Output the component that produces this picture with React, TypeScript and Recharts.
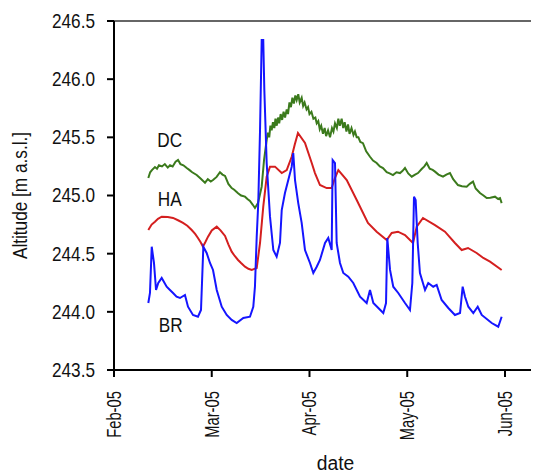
import { LineChart, Line, XAxis, YAxis, ReferenceLine, ReferenceDot } from 'recharts'

// x = months since 1 Feb 2005, y = altitude [m a.s.l.]
const dcSeries = [
  [0.351, 245.15], [0.37, 245.2], [0.39, 245.22], [0.419, 245.245], [0.44, 245.23], [0.46, 245.26], [0.491, 245.25],
  [0.52, 245.27], [0.55, 245.24], [0.573, 245.26], [0.6, 245.25], [0.63, 245.29], [0.655, 245.305], [0.68, 245.27],
  [0.71, 245.26], [0.744, 245.236], [0.77, 245.22], [0.8, 245.2], [0.846, 245.176], [0.88, 245.15], [0.931, 245.11],
  [0.96, 245.14], [0.99, 245.12], [1.013, 245.133], [1.05, 245.16], [1.084, 245.2], [1.11, 245.18], [1.136, 245.168],
  [1.17, 245.1], [1.204, 245.064], [1.23, 245.05], [1.269, 245.02], [1.3, 245.0], [1.34, 244.99], [1.365, 244.97],
  [1.391, 244.953], [1.42, 244.92], [1.442, 244.893], [1.473, 244.935], [1.511, 245.076], [1.535, 245.305],
  [1.562, 245.477], [1.575, 245.54], [1.588, 245.5], [1.6, 245.6], [1.613, 245.56], [1.626, 245.63], [1.64, 245.58],
  [1.652, 245.66], [1.665, 245.6], [1.678, 245.67], [1.69, 245.62], [1.705, 245.7], [1.72, 245.65], [1.735, 245.72],
  [1.75, 245.67], [1.767, 245.74], [1.78, 245.7], [1.795, 245.8], [1.81, 245.76], [1.825, 245.84], [1.84, 245.79],
  [1.855, 245.86], [1.869, 245.82], [1.885, 245.87], [1.9, 245.8], [1.92, 245.84], [1.935, 245.77], [1.95, 245.8],
  [1.97, 245.74], [1.985, 245.76], [2.0, 245.7], [2.02, 245.72], [2.04, 245.66], [2.06, 245.67], [2.074, 245.62],
  [2.09, 245.64], [2.105, 245.57], [2.12, 245.6], [2.138, 245.53], [2.155, 245.58], [2.17, 245.51], [2.19, 245.56],
  [2.21, 245.5], [2.23, 245.58], [2.245, 245.55], [2.261, 245.62], [2.28, 245.58], [2.295, 245.66], [2.31, 245.6],
  [2.329, 245.66], [2.345, 245.58], [2.36, 245.63], [2.378, 245.55], [2.394, 245.61], [2.41, 245.53], [2.43, 245.58],
  [2.45, 245.52], [2.465, 245.55], [2.483, 245.5], [2.5, 245.5], [2.52, 245.46], [2.547, 245.45], [2.58, 245.38],
  [2.619, 245.333], [2.65, 245.3], [2.687, 245.279], [2.72, 245.25], [2.752, 245.236], [2.79, 245.2], [2.82, 245.19],
  [2.854, 245.176], [2.89, 245.2], [2.926, 245.193], [2.95, 245.21], [2.977, 245.236], [3.01, 245.19],
  [3.046, 245.162], [3.08, 245.18], [3.11, 245.193], [3.15, 245.23], [3.175, 245.25], [3.199, 245.28], [3.23, 245.23],
  [3.26, 245.22], [3.284, 245.205], [3.32, 245.18], [3.366, 245.162], [3.4, 245.18], [3.437, 245.193], [3.47, 245.14],
  [3.519, 245.09], [3.56, 245.08], [3.608, 245.076], [3.64, 245.1], [3.673, 245.119], [3.7, 245.06], [3.744, 245.021],
  [3.78, 245.0], [3.813, 244.978], [3.85, 244.98], [3.898, 244.99], [3.93, 244.97], [3.949, 244.978], [3.966, 244.935],
]

const haSeries = [
  [0.351, 244.703], [0.385, 244.75], [0.419, 244.775], [0.45, 244.8], [0.488, 244.818], [0.55, 244.815],
  [0.604, 244.807], [0.66, 244.785], [0.706, 244.764], [0.75, 244.74], [0.795, 244.703], [0.83, 244.67],
  [0.859, 244.635], [0.885, 244.6], [0.91, 244.56], [0.935, 244.6], [0.962, 244.646], [1.0, 244.7],
  [1.051, 244.732], [1.09, 244.7], [1.136, 244.652], [1.17, 244.58], [1.204, 244.517], [1.235, 244.48],
  [1.269, 244.446], [1.3, 244.42], [1.34, 244.388], [1.375, 244.37], [1.409, 244.36], [1.46, 244.377],
  [1.494, 244.592], [1.527, 244.904], [1.562, 245.162], [1.596, 245.248], [1.647, 245.248], [1.716, 245.193],
  [1.767, 245.219], [1.818, 245.333], [1.85, 245.44], [1.882, 245.537], [1.954, 245.451], [2.023, 245.279],
  [2.056, 245.193], [2.107, 245.09], [2.176, 245.064], [2.227, 245.064], [2.26, 245.15], [2.295, 245.219],
  [2.381, 245.133], [2.483, 244.961], [2.598, 244.764], [2.687, 244.689], [2.79, 244.617], [2.841, 244.678],
  [2.905, 244.689], [2.977, 244.66], [3.059, 244.592], [3.097, 244.732], [3.161, 244.807], [3.284, 244.746],
  [3.386, 244.689], [3.488, 244.592], [3.557, 244.531], [3.622, 244.549], [3.71, 244.506], [3.778, 244.463],
  [3.847, 244.431], [3.966, 244.36],
]

const brSeries = [
  [0.351, 244.076], [0.368, 244.162], [0.386, 244.56], [0.409, 244.42], [0.43, 244.188], [0.453, 244.248],
  [0.488, 244.291], [0.539, 244.216], [0.57, 244.19], [0.604, 244.162], [0.64, 244.13], [0.675, 244.119],
  [0.726, 244.145], [0.757, 244.044], [0.808, 243.973], [0.859, 243.958], [0.89, 244.016], [0.914, 244.56],
  [0.948, 244.506], [0.982, 244.42], [1.013, 244.36], [1.051, 244.188], [1.102, 244.044], [1.153, 243.973],
  [1.204, 243.93], [1.255, 243.904], [1.323, 243.947], [1.391, 243.958], [1.425, 244.044], [1.442, 244.216],
  [1.46, 244.646], [1.476, 244.935], [1.494, 245.563], [1.511, 246.337], [1.527, 246.337], [1.538, 245.907],
  [1.562, 245.279], [1.596, 244.818], [1.63, 244.531], [1.664, 244.474], [1.698, 244.592], [1.716, 244.875],
  [1.749, 245.021], [1.783, 245.133], [1.818, 245.248], [1.834, 245.365], [1.852, 245.133], [1.885, 244.935],
  [1.92, 244.764], [1.954, 244.531], [2.005, 244.42], [2.039, 244.334], [2.074, 244.388], [2.107, 244.446],
  [2.159, 244.592], [2.192, 244.635], [2.227, 244.531], [2.237, 245.305], [2.261, 245.279], [2.278, 244.592],
  [2.312, 244.42], [2.346, 244.334], [2.397, 244.302], [2.448, 244.248], [2.517, 244.13], [2.585, 244.076],
  [2.619, 244.188], [2.653, 244.076], [2.704, 244.033], [2.755, 243.99], [2.783, 244.076], [2.796, 244.635],
  [2.824, 244.36], [2.857, 244.216], [2.908, 244.162], [2.977, 244.076], [3.028, 244.016], [3.052, 244.248],
  [3.069, 244.99], [3.086, 244.961], [3.107, 244.592], [3.13, 244.334], [3.182, 244.188], [3.215, 244.248],
  [3.266, 244.216], [3.301, 244.231], [3.352, 244.102], [3.42, 244.033], [3.488, 243.973], [3.54, 243.99],
  [3.567, 244.216], [3.591, 244.13], [3.625, 244.044], [3.676, 243.99], [3.721, 244.044], [3.762, 243.973],
  [3.864, 243.904], [3.931, 243.872], [3.966, 243.958],
]

const monthTicks = [0, 1, 2, 3, 4]
const monthLabels = ['Feb-05', 'Mar-05', 'Apr-05', 'May-05', 'Jun-05']
const altTicks = [243.5, 244.0, 244.5, 245.0, 245.5, 246.0, 246.5]

const seriesLabels = [
  { name: 'DC', x: 0.57, y: 245.48 },
  { name: 'HA', x: 0.57, y: 244.97 },
  { name: 'BR', x: 0.58, y: 243.89 },
]

const toRows = (s: number[][]) => s.map(([m, alt]) => ({ m, alt }))

const FONT = "'Liberation Sans', Arial, Helvetica, sans-serif"

// narrow-looking text: the reference uses a condensed sans
function CondText({ x, y, angle = 0, sx = 0.85, size = 19, anchor = 'middle', children }: any) {
  return (
    <g transform={`translate(${x}, ${y}) rotate(${angle}) scale(${sx}, 1)`}>
      <text x={0} y={0} textAnchor={anchor} dominantBaseline="central" fontFamily={FONT} fontSize={size} fill="#111">
        {children}
      </text>
    </g>
  )
}

function MonthTick({ x, y, payload }: any) {
  return (
    <CondText x={x} y={y + 12} angle={-90} sx={0.74} size={20} anchor="end">
      {monthLabels[monthTicks.indexOf(payload.value)]}
    </CondText>
  )
}

function AltTick({ x, y, payload }: any) {
  return (
    <CondText x={x} y={y} sx={0.86} size={20} anchor="end">
      {payload.value.toFixed(1)}
    </CondText>
  )
}

export default function App() {
  return (
    <LineChart width={531} height={467} margin={{ top: 13, right: 0, bottom: 0, left: 0 }}>
      <XAxis
        type="number"
        dataKey="m"
        domain={[0, 4.348]}
        ticks={monthTicks}
        allowDataOverflow
        height={105}
        tickSize={7}
        tickMargin={2}
        tick={<MonthTick />}
        axisLine={{ stroke: '#000', strokeWidth: 2 }}
        tickLine={{ stroke: '#000', strokeWidth: 2 }}
        label={{
          content: ({ viewBox }: any) => (
            <CondText x={viewBox.x + viewBox.width / 2 + 9} y={viewBox.y + viewBox.height - 12} sx={0.92} size={21}>
              date
            </CondText>
          ),
        }}
      />
      <YAxis
        type="number"
        domain={[243.5, 246.5]}
        ticks={altTicks}
        width={106}
        tickSize={7}
        tickMargin={12}
        tick={<AltTick />}
        axisLine={{ stroke: '#000', strokeWidth: 2 }}
        tickLine={{ stroke: '#000', strokeWidth: 2 }}
        label={{
          content: ({ viewBox }: any) => (
            <CondText x={12} y={viewBox.y + viewBox.height / 2} angle={-90} sx={0.82} size={21}>
              Altitude [m a.s.l.]
            </CondText>
          ),
        }}
      />
      <ReferenceLine y={246.5} stroke="#333" strokeWidth={1.5} />
      <Line data={toRows(dcSeries)} dataKey="alt" stroke="#3b7a1c" strokeWidth={2} dot={false} isAnimationActive={false} />
      <Line data={toRows(haSeries)} dataKey="alt" stroke="#d41f1f" strokeWidth={2} dot={false} isAnimationActive={false} />
      <Line data={toRows(brSeries)} dataKey="alt" stroke="#1515ff" strokeWidth={2} dot={false} isAnimationActive={false} />
      {seriesLabels.map((l) => (
        <ReferenceDot
          key={l.name}
          x={l.x}
          y={l.y}
          r={0}
          fill="none"
          stroke="none"
          label={{
            content: ({ viewBox }: any) => (
              <CondText x={viewBox.x + viewBox.width / 2} y={viewBox.y + viewBox.height / 2} sx={0.82} size={21}>
                {l.name}
              </CondText>
            ),
          }}
        />
      ))}
    </LineChart>
  )
}
